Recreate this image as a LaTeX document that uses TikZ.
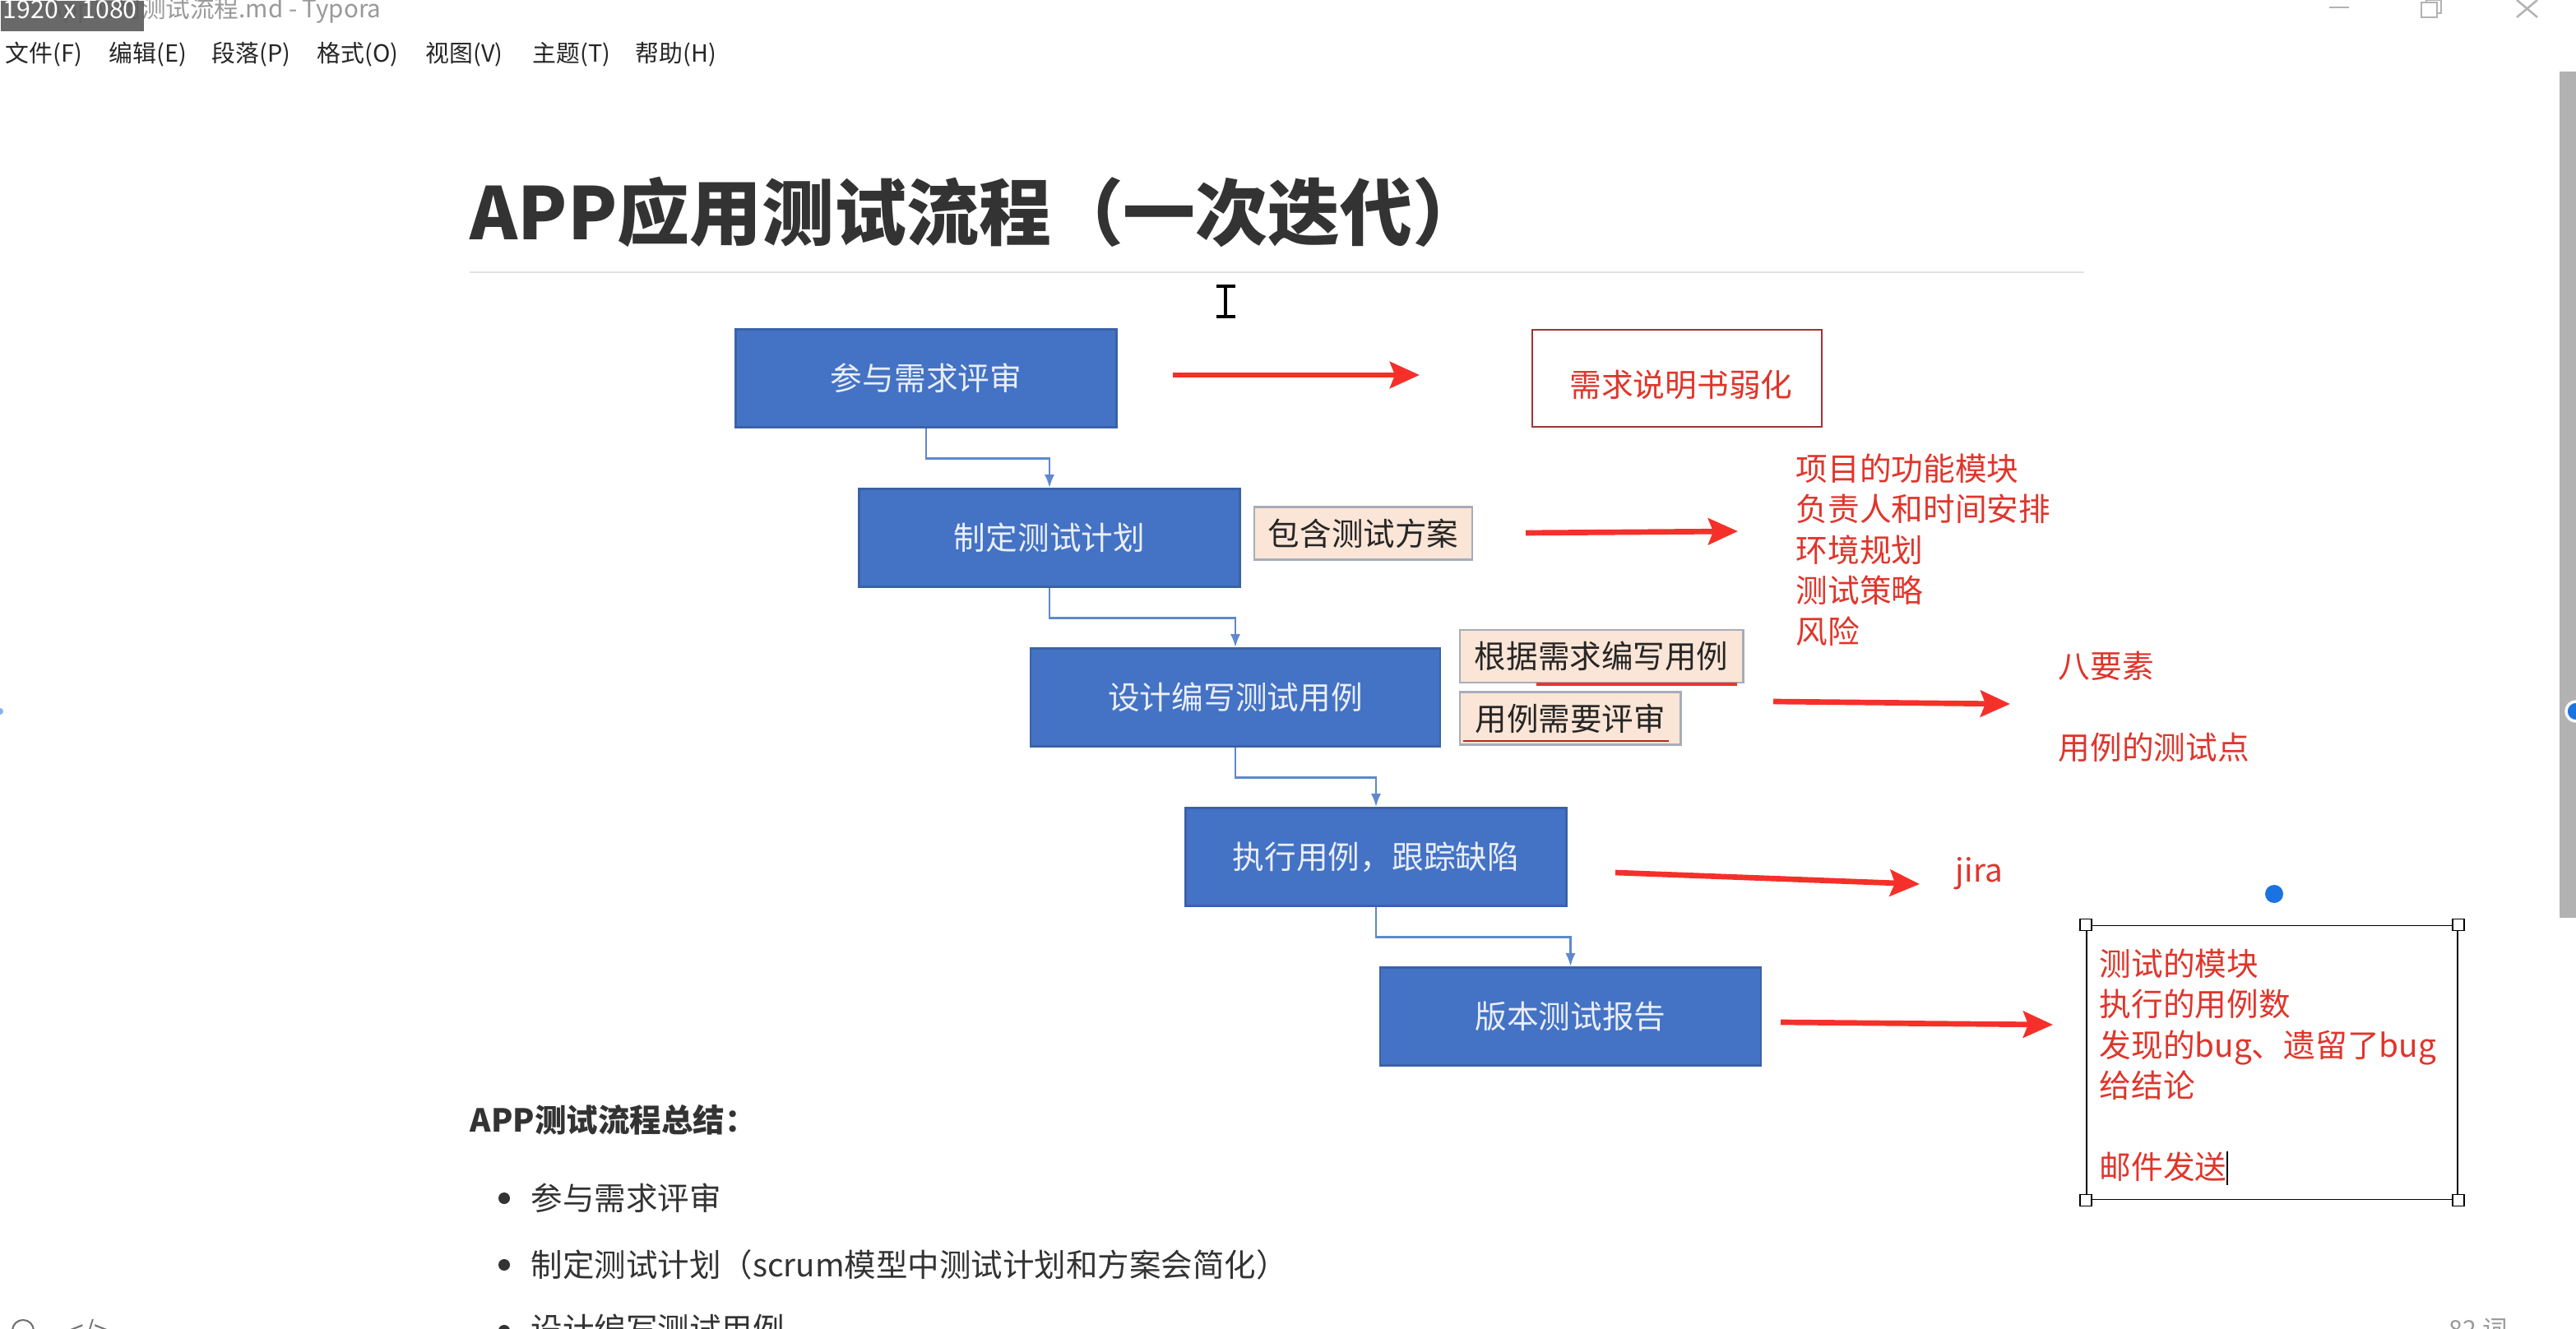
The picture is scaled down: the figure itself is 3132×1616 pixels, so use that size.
\documentclass[tikz,border=0pt]{standalone}
\usepackage{xcolor}
\usepackage{fontspec}
\setmainfont{Noto Sans CJK SC}
\usetikzlibrary{arrows.meta, positioning, calc}
\definecolor{azulcaja}{HTML}{4472C4}
\definecolor{azulborde}{HTML}{3A62A8}
\definecolor{azullinea}{HTML}{5F88CE}
\definecolor{azulpunto}{HTML}{1A73E0}
\definecolor{rojoflecha}{HTML}{F5302A}
\definecolor{rojotexto}{HTML}{E0352B}
\definecolor{durazno}{HTML}{FBE5D6}
\definecolor{grisborde}{HTML}{A6ADBB}
\begin{document}
\begin{tikzpicture}[
        x=0.01cm,
        y=-0.01cm,
        bloque/.style={
            rectangle,
            draw=azulborde,
            line width=0.7pt,
            fill=azulcaja,
            text=white!88!azulcaja,
            align=center,
            minimum width=4.63cm,
            minimum height=1.19cm,
            inner sep=0pt,
            font=\fontsize{11}{14}\selectfont
        },
        etiqueta/.style={
            rectangle,
            draw=grisborde,
            line width=0.8pt,
            fill=durazno,
            text=black!85,
            minimum height=0.64cm,
            inner sep=0pt,
            font=\fontsize{10.95}{14}\selectfont
        },
        nota/.style={
            text=rojotexto,
            align=left,
            inner sep=0pt,
            font=\fontsize{11}{14.06}\selectfont
        },
        conector/.style={
            -{Latex[length=1.6mm,width=1.2mm]},
            draw=azullinea,
            line width=0.8pt
        },
        flecha/.style={
            -{Stealth[length=3.6mm,width=3.2mm,inset=0.6mm]},
            draw=rojoflecha,
            line width=1.9pt
        },
        ventana/.style={
            draw=black!30,
            line width=0.7pt
        },
        menu/.style={
            anchor=west,
            inner sep=0pt,
            text=black!85,
            font=\fontsize{8.2}{10}\selectfont
        },
        cuerpo/.style={
            anchor=west,
            inner sep=0pt,
            text=black!80,
            font=\fontsize{10.95}{14}\selectfont
        },
        punto/.style={
            circle,
            fill=black!80,
            inner sep=0pt,
            minimum size=0.14cm
        },
        asa/.style={
            rectangle,
            draw=black,
            fill=white,
            line width=0.5pt,
            inner sep=0pt,
            minimum size=0.14cm
        },
        azulito/.style={
            circle,
            fill=azulpunto,
            inner sep=0pt,
            minimum size=0.22cm
        }
    ]

    \useasboundingbox (0,0) rectangle (3132,1616);
    \clip (0,0) rectangle (3132,1616);
    \fill[white] (0,0) rectangle (3132,1616);

    % barra de la ventana
    \node[menu, text=black!40, font=\fontsize{8.4}{12}\selectfont] (archivo) at (58,12) {App应用测试流程.md - Typora};
    \node[rectangle, fill=black!65, fill opacity=0.9, minimum width=1.74cm, minimum height=0.37cm, inner sep=0pt, anchor=north west] (medida) at (0,0) {};
    \node[menu, text=white, font=\fontsize{8.6}{9}\selectfont] (tamano) at (3,12) {1920 x 1080};
    \draw[ventana] (2832,9) -- (2856,9);
    \draw[ventana] (2944,3) rectangle (2963,21);
    \draw[ventana] (2950,3) -- (2950,0) -- (2968,0) -- (2968,16) -- (2963,16);
    \draw[ventana] (3060,0) -- (3085,21) (3085,0) -- (3060,21);
    \fill[black!30] (3112,87) rectangle (3132,1116);

    \node[menu] (m1) at (6,66) {文件(F)};
    \node[menu] (m2) at (132,66) {编辑(E)};
    \node[menu] (m3) at (257,66) {段落(P)};
    \node[menu] (m4) at (385,66) {格式(O)};
    \node[menu] (m5) at (517,66) {视图(V)};
    \node[menu] (m6) at (647,66) {主题(T)};
    \node[menu] (m7) at (772,66) {帮助(H)};

    % titulo
    \node[cuerpo, text=black!80, font=\fontsize{25}{30}\selectfont\bfseries] (titulo) at (571,258) {APP应用测试流程（一次迭代）};
    \draw[black!12, line width=0.6pt] (571,331) -- (2534,331);
    \draw[black, line width=0.9pt] (1490,348) -- (1490,385) (1479,348) -- (1502,348) (1479,385) -- (1502,385);

    % pasos
    \node[bloque] (requisitos) at (1126,460) {参与需求评审};
    \node[bloque] (plan) at (1276,654) {制定测试计划};
    \node[bloque, minimum width=4.98cm] (casos) at (1502,848) {设计编写测试用例};
    \node[bloque] (ejecucion) at (1673,1042) {执行用例，跟踪缺陷};
    \node[bloque] (informe) at (1909.5,1236) {版本测试报告};

    \draw[conector] (requisitos.south) -- ++(0,37) -| (plan.north);
    \draw[conector] (plan.south) -- ++(0,37) -| (casos.north);
    \draw[conector] (casos.south) -- ++(0,37) -| (ejecucion.north);
    \draw[conector] (ejecucion.south) -- ++(0,37) -| (informe.north);

    % etiquetas
    \node[etiqueta, minimum width=2.65cm] (esquema) at (1657.5,648.5) {包含测试方案};
    \node[etiqueta, minimum width=3.44cm] (escribir) at (1947,798) {根据需求编写用例};
    \node[etiqueta, minimum width=2.68cm] (revisar) at (1909,873.5) {用例需要评审};
    \draw[rojoflecha, line width=1.1pt] (escribir.south west) ++(94,1) -- ++(244,0);
    \draw[rojotexto!80!black, line width=0.6pt] (revisar.south west) ++(5,-6) -- ++(250,0);

    % notas
    \node[nota, draw=red!55!black!80, line width=0.6pt, minimum width=3.52cm, minimum height=1.18cm, label={[nota, xshift=0.05cm, yshift=-0.08cm]center:需求说明书弱化}] (debil) at (2039,460) {};
    \node[nota, anchor=north west] (contenido) at (2183,551) {项目的功能模块\\负责人和时间安排\\环境规划\\测试策略\\风险};
    \node[nota, anchor=north west] (ochos) at (2502,791) {八要素\\[14.06pt]用例的测试点};
    \node[nota, anchor=west] (jira) at (2377,1062) {jira};
    \node[rectangle, draw=black, line width=0.5pt, minimum width=4.51cm, minimum height=3.33cm, inner sep=0pt] (cuadro) at (2762.5,1292) {};
    \node[nota, anchor=north west] (informar) at (2552,1153) {测试的模块\\执行的用例数\\发现的bug、遗留了bug\\给结论\\[14.06pt]邮件发送};
    \node[asa] at (cuadro.north west) {};
    \node[asa] at (cuadro.north east) {};
    \node[asa] at (cuadro.south west) {};
    \node[asa] at (cuadro.south east) {};
    \node[azulito] (giro) at (2765,1087) {};
    \draw[black, line width=0.5pt] (2708,1400) -- (2708,1441);

    % puntos de los bordes
    \node[azulito, fill=azulpunto!55, minimum size=0.08cm] (borde1) at (0,865) {};
    \node[azulito, draw=white, line width=1pt, minimum size=0.24cm] (borde2) at (3132,865) {};

    % flechas rojas
    \coordinate (f1a) at (1426,456);
    \coordinate (f1b) at (1726,456);
    \coordinate (f2a) at (1855,648);
    \coordinate (f2b) at (2113,646);
    \coordinate (f3a) at (2156,853);
    \coordinate (f3b) at (2444,856);
    \coordinate (f4a) at (1964,1061);
    \coordinate (f4b) at (2334,1075);
    \coordinate (f5a) at (2165,1243);
    \coordinate (f5b) at (2496,1246);
    \draw[flecha] (f1a) -- (f1b);
    \draw[flecha] (f2a) -- (f2b);
    \draw[flecha] (f3a) -- (f3b);
    \draw[flecha] (f4a) -- (f4b);
    \draw[flecha] (f5a) -- (f5b);

    % resumen
    \node[cuerpo, font=\fontsize{10.95}{14}\selectfont\bfseries] (resumen) at (571,1362) {APP测试流程总结：};
    \node[punto] (p1) at (613,1457) {};
    \node[punto] (p2) at (613,1538) {};
    \node[punto] (p3) at (613,1618) {};
    \node[cuerpo] (r1) at (645,1457) {参与需求评审};
    \node[cuerpo] (r2) at (645,1538) {制定测试计划（scrum模型中测试计划和方案会简化）};
    \node[cuerpo] (r3) at (645,1616) {设计编写测试用例};

    % barra inferior
    \draw[black!55, line width=0.6pt] (28,1618) circle (13);
    \node[menu, text=black!55, font=\fontsize{9}{10}\selectfont] (codigo) at (84,1620) {</>};
    \node[menu, text=black!40, font=\fontsize{8.6}{10}\selectfont] (palabras) at (2977,1616) {82 词};

    \end{tikzpicture}
\end{document}
